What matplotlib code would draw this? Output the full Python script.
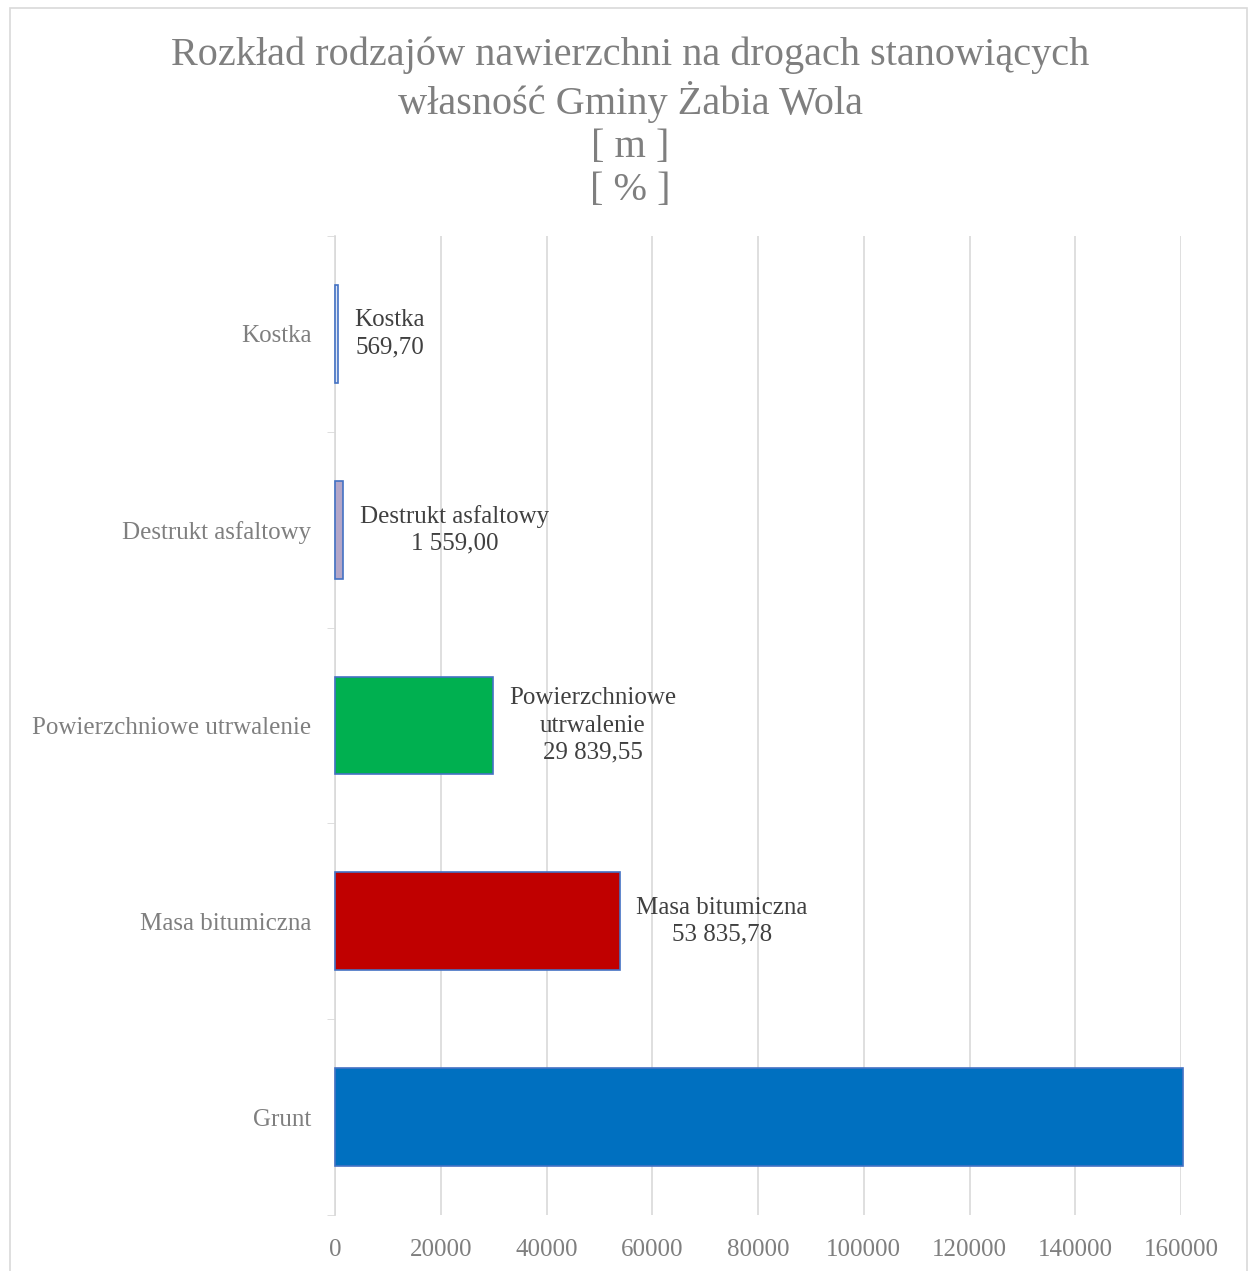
import matplotlib
matplotlib.use("Agg")
import matplotlib.pyplot as plt
from matplotlib.patches import Rectangle

# Dane
kategorie = ["Grunt", "Masa bitumiczna", "Powierzchniowe utrwalenie",
             "Destrukt asfaltowy", "Kostka"]
wartosci = [160400, 53835.78, 29839.55, 1559.00, 569.70]
etykiety = ["", "Masa bitumiczna\n53 835,78", "Powierzchniowe\nutrwalenie\n29 839,55",
            "Destrukt asfaltowy\n1 559,00", "Kostka\n569,70"]
kolory = ["#0070C0", "#C00000", "#00B050", "#B4A7C8", "#DDE6F4"]
x_ticks = [0, 20000, 40000, 60000, 80000, 100000, 120000, 140000, 160000]

tytul = ("Rozkład rodzajów nawierzchni na drogach stanowiących\n"
         "własność Gminy Żabia Wola\n[ m ]\n[ % ]")

plt.rcParams['font.family'] = ['Liberation Serif', 'DejaVu Serif']

fig = plt.figure(figsize=(12.55, 12.71), dpi=100)
ax = fig.add_axes([335/1255, 1 - 1215/1271, 846/1255, 979/1271])

# ramka wykresu
fig.patches.append(Rectangle((10/1255, -0.05), 1237/1255, 1.05 - 8/1271,
                             transform=fig.transFigure, fill=False,
                             edgecolor="#D9D9D9", linewidth=1.2))

y = range(len(kategorie))
bars = ax.barh(y, wartosci, height=0.5, color=kolory, edgecolor="#4472C4",
               linewidth=1.2, zorder=3)
for b in bars:
    b.set_clip_on(False)

for i, txt in enumerate(etykiety):
    if txt:
        ax.annotate(txt, (wartosci[i], i), xytext=(12, 0), textcoords="offset points",
                    ha="left", va="center", multialignment="center",
                    fontsize=18, color="#404040", linespacing=1.3)

ax.set_xlim(0, 160000)
ax.set_ylim(-0.5, len(kategorie) - 0.5)
ax.set_xticks(x_ticks)
ax.set_xticklabels([str(v) for v in x_ticks], fontsize=18, color="#7F7F7F")
ax.set_yticks(list(y))
ax.set_yticklabels(kategorie, fontsize=18, color="#7F7F7F")
ax.set_yticks([i + 0.5 for i in range(-1, len(kategorie))], minor=True)
ax.tick_params(axis="y", which="major", length=0, pad=17)
ax.tick_params(axis="y", which="minor", length=6, color="#D9D9D9")
ax.tick_params(axis="x", length=0, pad=17)

ax.grid(axis="x", color="#D9D9D9", linewidth=1.2, zorder=0)
for s in ["top", "right", "bottom"]:
    ax.spines[s].set_visible(False)
ax.spines["left"].set_color("#D9D9D9")
ax.spines["left"].set_linewidth(1.2)

fig.text(0.502, 1 - 36/1271, tytul, ha="center", va="top", fontsize=29,
         color="#7F7F7F", linespacing=1.22)

fig.savefig("out.png", dpi=100)
